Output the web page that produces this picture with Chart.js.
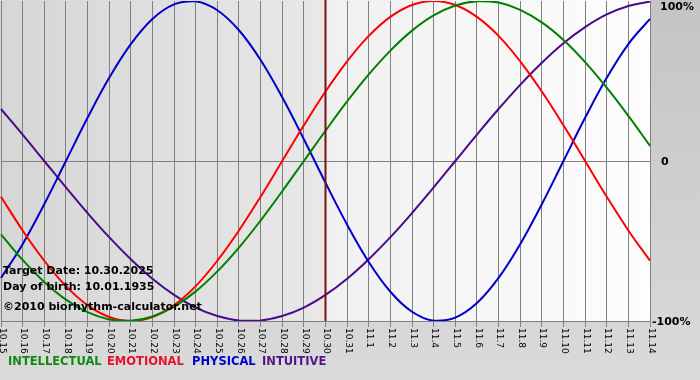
<!DOCTYPE html>
<html>
<head>
<meta charset="utf-8">
<script src="https://cdn.jsdelivr.net/npm/chart.js@4/dist/chart.umd.min.js"></script>
<style>
html,body{margin:0;padding:0;background:#c8c8c8;}
#wrap{width:700px;height:380px;}
</style>
</head>
<body>
<div id="wrap"><canvas id="c" width="700" height="380"></canvas></div>
<script>
const dayLabels = ['10.15','10.16','10.17','10.18','10.19','10.20','10.21','10.22','10.23','10.24','10.25','10.26','10.27','10.28','10.29','10.30','10.31','11.1','11.2','11.3','11.4','11.5','11.6','11.7','11.8','11.9','11.10','11.11','11.12','11.13','11.14'];
const intellectual = [-45.8,-61.8,-75.6,-86.6,-94.5,-99.0,-99.9,-97.2,-91.0,-81.5,-69.0,-54.1,-37.2,-18.9,0,18.9,37.2,54.1,69.0,81.5,91.0,97.2,99.9,99.0,94.5,86.6,75.6,61.8,45.8,28.2,9.5];
const emotional = [-22.3,-43.4,-62.3,-78.2,-90.1,-97.5,-100,-97.5,-90.1,-78.2,-62.3,-43.4,-22.3,0,22.3,43.4,62.3,78.2,90.1,97.5,100,97.5,90.1,78.2,62.3,43.4,22.3,0,-22.3,-43.4,-62.3];
const physical = [-73.1,-52.0,-27.0,0,27.0,52.0,73.1,88.8,97.9,99.8,94.2,81.7,63.1,39.8,13.6,-13.6,-39.8,-63.1,-81.7,-94.2,-99.8,-97.9,-88.8,-73.1,-52.0,-27.0,0,27.0,52.0,73.1,88.8];
const intuitive = [32.5,16.5,0,-16.5,-32.5,-47.6,-61.4,-73.6,-83.7,-91.6,-96.9,-99.7,-99.7,-96.9,-91.6,-83.7,-73.6,-61.4,-47.6,-32.5,-16.5,0,16.5,32.5,47.6,61.4,73.6,83.7,91.6,96.9,99.7];
const targetLabel = '10.30';
const yTickValues = [100, 0, -100];
const yTickLabels = ['100%', '0', '-100%'];
const infoLines = ['Target Date: 10.30.2025', 'Day of birth: 10.01.1935', '\u00A92010 biorhythm-calculator.net'];
const legendNames = ['INTELLECTUAL', 'EMOTIONAL', 'PHYSICAL', 'INTUITIVE'];
const legendColors = ['#108a10', '#e8102a', '#0000cc', '#55148a'];

const FONT = '"DejaVu Sans", Verdana, sans-serif';

const decor = {
  id: 'decor',
  beforeDraw(chart) {
    const ctx = chart.ctx, a = chart.chartArea, xs = chart.scales.x;
    ctx.save();
    let g = ctx.createLinearGradient(0, 0, 0, chart.height);
    g.addColorStop(0, '#c4c4c4');
    g.addColorStop(1, '#dadada');
    ctx.fillStyle = g;
    ctx.fillRect(0, 0, chart.width, chart.height);
    const tx = xs.getPixelForValue(dayLabels.indexOf(targetLabel));
    g = ctx.createLinearGradient(a.left, 0, tx, 0);
    g.addColorStop(0, '#d6d6d6');
    g.addColorStop(1, '#e8e8e8');
    ctx.fillStyle = g;
    ctx.fillRect(a.left - 1, a.top - 1, tx - a.left + 1, a.bottom - a.top + 1);
    g = ctx.createLinearGradient(tx, 0, a.right, 0);
    g.addColorStop(0, '#f0f0f0');
    g.addColorStop(1, '#fdfdfd');
    ctx.fillStyle = g;
    ctx.fillRect(tx, a.top - 1, a.right - tx, a.bottom - a.top + 1);
    ctx.restore();
  },
  afterDatasetsDraw(chart) {
    const ctx = chart.ctx, a = chart.chartArea, xs = chart.scales.x, ys = chart.scales.y;
    ctx.save();
    const tx = xs.getPixelForValue(dayLabels.indexOf(targetLabel));
    ctx.strokeStyle = '#7a1010';
    ctx.lineWidth = 2;
    ctx.beginPath();
    ctx.moveTo(tx, 0);
    ctx.lineTo(tx, a.bottom);
    ctx.stroke();
    ctx.fillStyle = '#000';
    ctx.font = 'bold 11px ' + FONT;
    ctx.textBaseline = 'middle';
    ctx.textAlign = 'left';
    const infoY = [271, 287, 307];
    infoLines.forEach((t, i) => ctx.fillText(t, a.left + 2, infoY[i]));
    ctx.font = '9px ' + FONT;
    dayLabels.forEach((lab, i) => {
      const x = xs.getPixelForValue(i);
      ctx.save();
      ctx.translate(x + 1, a.bottom + 7);
      ctx.rotate(Math.PI / 2);
      ctx.fillText(lab, 0, 0);
      ctx.restore();
    });
    ctx.font = 'bold 11px ' + FONT;
    const yOff = [6, 1, 1];
    const xOff = [10, 11, 2];
    yTickValues.forEach((v, i) => {
      ctx.fillText(yTickLabels[i], a.right + xOff[i], ys.getPixelForValue(v) + yOff[i]);
    });
    ctx.font = 'bold 11.5px ' + FONT;
    const legendX = [8, 107, 192, 262];
    legendNames.forEach((n, i) => {
      ctx.fillStyle = legendColors[i];
      ctx.fillText(n, legendX[i], 362);
    });
    ctx.restore();
  }
};

const mk = (label, data, color) => ({
  label, data, borderColor: color, backgroundColor: color,
  borderWidth: 2, pointRadius: 0, tension: 0.4, fill: false
});

new Chart(document.getElementById('c'), {
  type: 'line',
  data: {
    labels: dayLabels,
    datasets: [
      mk('INTELLECTUAL', intellectual, '#008000'),
      mk('EMOTIONAL', emotional, '#ff0000'),
      mk('PHYSICAL', physical, '#0000cc'),
      mk('INTUITIVE', intuitive, '#4b0a8a')
    ]
  },
  options: {
    responsive: false,
    animation: false,
    devicePixelRatio: 1,
    layout: { padding: { left: 1, top: 1, right: 0, bottom: 0 } },
    plugins: { legend: { display: false }, tooltip: { enabled: false } },
    scales: {
      x: {
        offset: false,
        ticks: { display: false },
        grid: { color: '#808080', lineWidth: 1, drawTicks: true, tickLength: 6, tickColor: '#808080' },
        border: { display: true, color: '#808080' },
        afterFit(s) { s.height = 59; }
      },
      y: {
        position: 'right',
        min: -100, max: 100,
        afterBuildTicks(s) { s.ticks = yTickValues.map(v => ({ value: v })); },
        ticks: { display: false },
        grid: {
          color: (c) => (c.tick && c.tick.value === 0) ? '#808080' : 'rgba(0,0,0,0)',
          drawTicks: false
        },
        border: { display: false },
        afterFit(s) { s.width = 50; }
      }
    }
  },
  plugins: [decor]
});
</script>
</body>
</html>
